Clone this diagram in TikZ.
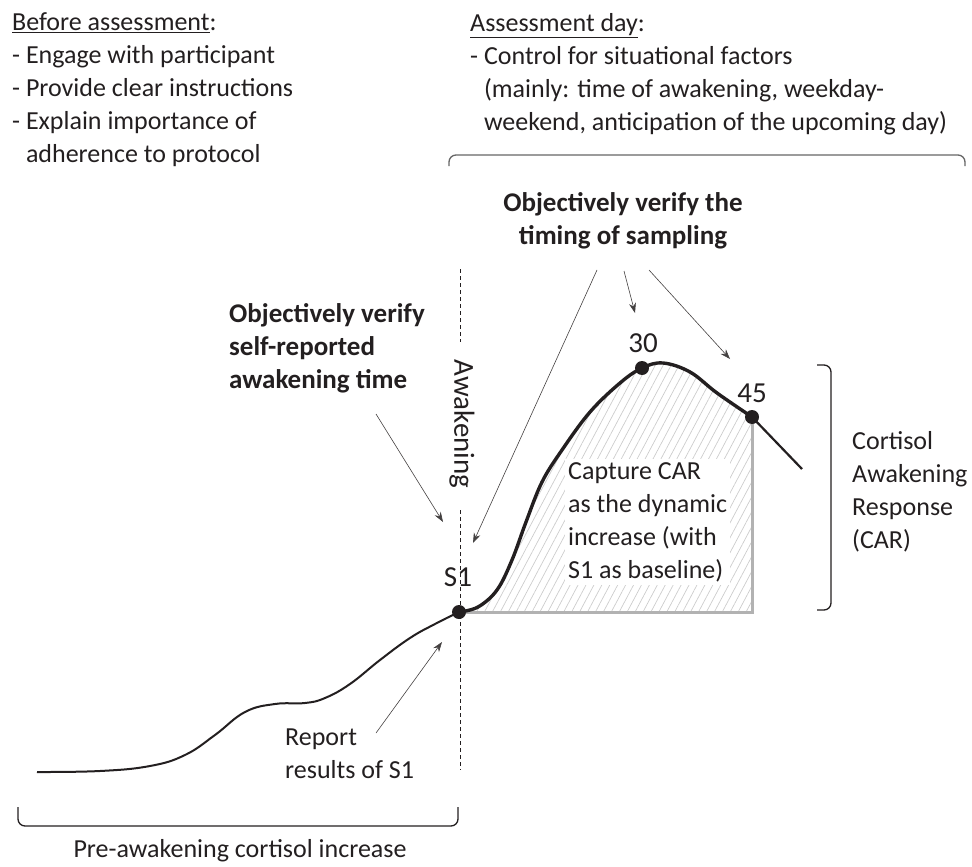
\documentclass[tikz,border=0pt]{standalone}
\usepackage{fontspec}
\setmainfont{Carlito}
\usetikzlibrary{arrows.meta,patterns.meta,positioning}
\definecolor{ink}{HTML}{231F20}
\definecolor{hatch}{HTML}{CCCCCC}
\tikzstyle{txt}=[inner sep=0pt,align=left,text=ink]
\tikzstyle{boldtxt}=[inner sep=0pt,align=center,text=ink,font=\fontsize{27}{33}\selectfont\bfseries]
\tikzstyle{numtxt}=[inner sep=0pt,text=ink,font=\fontsize{29}{33}\selectfont]
\tikzstyle{sample}=[circle,fill=ink,minimum size=14pt,inner sep=0pt]
\tikzstyle{pointer}=[->,line width=.6pt,draw=ink!85]
\tikzstyle{brace}=[rounded corners=7pt,line width=1.3pt]
\tikzstyle{awakeline}=[dash pattern=on 4pt off 3pt,line width=.8pt,draw=ink]
\tikzstyle{curve}=[line width=2pt,draw=ink]
\tikzstyle{car}=[line width=3.4pt,draw=ink]
\tikzstyle{base}=[line width=3pt,draw=black!30]

\begin{document}
\begin{tikzpicture}[x=1pt,y=-1pt,>={Stealth[length=10pt,width=7pt]},
                    font=\fontsize{26}{33}\selectfont]
	\useasboundingbox (0,0) rectangle (972,867);

	% header texts
	\node[txt,anchor=west] (before) at (12,90)
		{\underline{Before assessment}:\\- Engage with participant\\- Provide clear instructions\\- Explain importance of\\\phantom{-~}adherence to protocol};
	\node[txt,anchor=west] (day) at (470,74)
		{\underline{Assessment day}:\\- Control for situational factors\\\phantom{-~}(mainly: time of awakening, weekday-\\\phantom{-~}weekend, anticipation of the upcoming day)};
	\draw[brace,draw=black!60] (449,166) -- (449,155) -- (965,155) -- (965,166);

	% samples
	\coordinate (s1) at (459,612);
	\coordinate (s30) at (642,368);
	\coordinate (s45) at (752,417);

	% CAR area
	\fill[pattern={Lines[angle=62,distance=7pt,line width=.7pt]},pattern color=hatch]
		plot[smooth,tension=.6] coordinates {(459,612) (478,607) (497,590) (512,560) (526,522)
		(542,482) (562,450) (590,412) (620,383) (642,368) (663,363) (690,372) (717,393) (752,417)}
		-- (752,612) -- cycle;
	\draw[base] (s45) |- (s1);
	\node[txt,anchor=west,fill=white,inner sep=3pt] (capture) at (565,522)
		{Capture CAR\\as the dynamic\\increase (with\\S1 as baseline)};

	% cortisol curve
	\draw[curve] plot[smooth,tension=.7] coordinates {(37,772) (100,771) (150,766) (185,755)
		(215,735) (245,712) (275,704) (305,703) (325,698) (350,684) (380,660) (410,638)
		(435,624) (459,612)};
	\draw[car] plot[smooth,tension=.6] coordinates {(459,612) (478,607) (497,590) (512,560)
		(526,522) (542,482) (562,450) (590,412) (620,383) (642,368) (663,363) (690,372)
		(717,393) (752,417)};
	\draw[curve,line width=2.2pt] (s45) -- (802,469);

	\node[sample] (n1) at (s1) {};
	\node[sample] (n30) at (s30) {};
	\node[sample] (n45) at (s45) {};
	\node[numtxt] (l1) at (458,577) {S1};
	\node[numtxt] (l30) at (643,343) {30};
	\node[numtxt] (l45) at (752,393) {45};

	% awakening line
	\node[txt,rotate=-90,font=\fontsize{29}{33}\selectfont] (awake) at (462,424) {Awakening};
	\coordinate (a0) at (460,269);
	\coordinate (a1) at (460,342);
	\coordinate (a2) at (460,510);
	\coordinate (a3) at (460,770);
	\draw[awakeline] (a0) -- (a1);
	\draw[awakeline] (a2) -- (a3);

	% verification notes
	\node[boldtxt] (timing) at (623,221) {Objectively verify the\\timing of sampling};
	\node[boldtxt,align=left,anchor=west] (selfrep) at (229,348)
		{Objectively verify\\self-reported\\awakening time};
	\node[txt,anchor=west] (report) at (285,754) {Report\\results of S1};

	\coordinate (t1) at (597,270);
	\coordinate (t2) at (624,271);
	\coordinate (t3) at (649,270);
	\coordinate (r1) at (376,414);
	\coordinate (r2) at (376,733);
	\draw[pointer] (t1) -- (473,543);
	\draw[pointer] (t2) -- (635,313);
	\draw[pointer] (t3) -- (730,359);
	\draw[pointer] (r1) -- (443,522);
	\draw[pointer] (r2) -- (442,642);

	% braces
	\draw[brace,draw=ink] (817,365) -- (831,365) -- (831,610) -- (817,610);
	\node[txt,anchor=west] (response) at (852,492) {Cortisol\\Awakening\\Response\\(CAR)};
	\draw[brace,draw=ink] (18,807) -- (18,826) -- (458,826) -- (458,807);
	\node[txt] (pre) at (240,851) {Pre-awakening cortisol increase};
\end{tikzpicture}
\end{document}
